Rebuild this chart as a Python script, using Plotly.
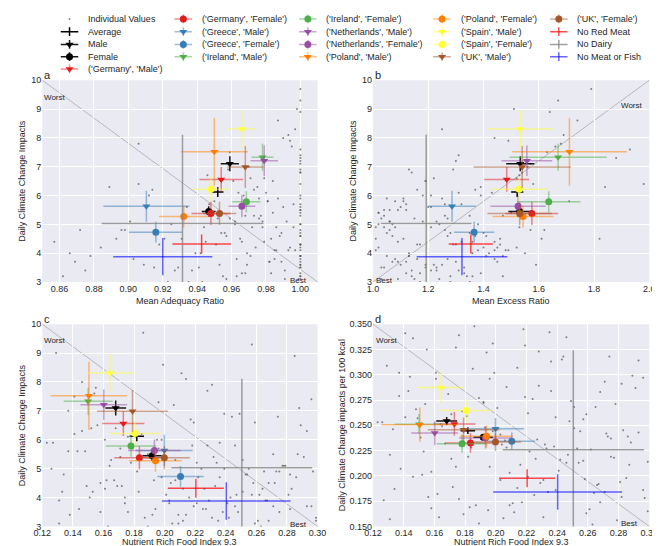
import plotly.graph_objects as go

W, H = 660, 546

# ---------------- data ----------------
groups = ["Average", "Male", "Female",
          "('Germany', 'Male')", "('Germany', 'Female')",
          "('Greece', 'Male')", "('Greece', 'Female')",
          "('Ireland', 'Male')", "('Ireland', 'Female')",
          "('Netherlands', 'Male')", "('Netherlands', 'Female')",
          "('Poland', 'Male')", "('Poland', 'Female')",
          "('Spain', 'Male')", "('Spain', 'Female')",
          "('UK', 'Male')", "('UK', 'Female')",
          "No Red Meat", "No Dairy", "No Meat or Fish"]

# Mean Adequacy Ratio
mar = [0.952, 0.959, 0.9467, 0.954, 0.948, 0.9105, 0.916, 0.978, 0.9686, 0.979, 0.966,
       0.950, 0.9322, 0.966, 0.948, 0.968, 0.953, 0.9426, 0.9315, 0.920]
mar_err = [0.0033, 0.0053, 0.004, 0.0127, 0.0113, 0.025, 0.0156, 0.0064, 0.0082, 0.008, 0.0078,
           0.0195, 0.0143, 0.0081, 0.0105, 0.0105, 0.0097, 0.017, 0.047, 0.0288]
# Mean Excess Ratio
mer = [1.522, 1.533, 1.531, 1.484, 1.575, 1.286, 1.366, 1.670, 1.636, 1.557, 1.525,
       1.711, 1.543, 1.533, 1.529, 1.540, 1.531, 1.354, 1.1925, 1.322]
mer_err = [0.022, 0.051, 0.041, 0.081, 0.095, 0.086, 0.073, 0.176, 0.115, 0.092, 0.100,
           0.207, 0.110, 0.120, 0.104, 0.176, 0.117, 0.080, 0.164, 0.164]
# Nutrient Rich Food Index 9.3
nrf = [0.1818, 0.168, 0.1918, 0.173, 0.1835, 0.1998, 0.2104, 0.150, 0.178, 0.1602, 0.1933,
       0.1505, 0.194, 0.1643, 0.1806, 0.179, 0.1998, 0.2204, 0.2505, 0.2403]
nrf_err = [0.0047, 0.0068, 0.0063, 0.0138, 0.0164, 0.0185, 0.0152, 0.016, 0.0164, 0.0153, 0.0172,
           0.025, 0.0172, 0.015, 0.0167, 0.0233, 0.0167, 0.0183, 0.046, 0.042]
# Daily Climate Change Impacts
cc = [6.12, 7.10, 5.45, 6.56, 5.38, 5.63, 4.73, 7.33, 5.78, 7.21, 5.63,
      7.52, 5.27, 8.31, 6.22, 6.99, 5.38, 4.32, 5.03, 3.88]
cc_err = [0.17, 0.26, 0.18, 0.43, 0.40, 0.54, 0.36, 0.47, 0.37, 0.53, 0.38,
          1.18, 0.38, 0.66, 0.41, 0.73, 0.40, 0.33, 3.08, 0.65]
# Daily Climate Change impacts per 100 kcal
cck = [0.2446, 0.2543, 0.2381, 0.2514, 0.2326, 0.2466, 0.2343, 0.2511, 0.2318, 0.2423, 0.2375,
       0.2505, 0.2391, 0.2874, 0.2647, 0.2456, 0.2336, 0.1976, 0.2258, 0.184]
cck_err = [0.0032, 0.004, 0.0032, 0.0117, 0.0097, 0.0105, 0.0086, 0.010, 0.009, 0.012, 0.0105,
           0.017, 0.011, 0.0159, 0.011, 0.012, 0.009, 0.0089, 0.0985, 0.0175]

# individual values (estimated sample of the cloud)
ind_cc = [3.3, 4.1, 5.6, 3.9, 6.8, 4.5, 3.1, 7.4, 5.2, 4.8,
          3.7, 6.1, 4.3, 8.6, 5.9, 3.5, 4.9, 6.4, 3.2, 5.4,
          4.0, 7.9, 3.6, 5.1, 4.6, 6.9, 3.4, 5.8, 9.3, 4.2,
          5.5, 3.8, 6.3, 4.7, 3.0, 7.1, 5.0, 4.4, 6.6, 3.9,
          8.1, 4.9, 5.3, 3.3, 6.0, 4.1, 7.6, 3.6, 5.7, 4.5,
          3.1, 6.2, 4.8, 9.7, 5.2, 3.7, 4.3, 6.7, 3.5, 5.6,
          4.0, 7.3, 5.9, 3.2, 4.6, 8.9, 3.8, 5.4, 6.5, 4.2,
          3.4, 5.1, 7.0, 4.7, 3.9, 6.1, 5.8, 3.3, 4.4, 8.3,
          5.0, 3.6, 6.9, 4.1, 5.5, 3.0, 7.7, 4.9, 6.4, 3.7,
          5.3, 4.3, 9.0, 3.5, 6.0, 4.8, 5.7, 3.2, 7.2, 4.5,
          3.4, 4.6, 5.1, 3.8, 4.2, 5.7, 3.1, 4.9, 6.3, 3.6,
          4.4, 5.3, 3.2, 4.0, 5.9, 4.7, 3.5, 6.6, 4.1, 5.0,
          3.9, 4.5, 5.5, 3.3, 6.0, 4.8, 3.7, 5.2, 4.3, 7.5,
          3.0, 4.6, 5.8, 3.6, 4.2, 6.8, 5.4, 3.4, 4.9, 5.6,
          3.8, 4.1, 6.2, 3.2, 5.1, 4.4, 8.0, 3.9, 4.7, 5.3,
          3.5, 6.5, 4.0, 3.1, 5.0, 4.5, 7.8, 3.7, 5.5, 4.3]
ind_mar = [0.983, 1.000, 0.934, 0.971, 1.000, 0.893, 0.991, 1.000, 0.952, 0.872,
           1.000, 0.964, 0.918, 0.987, 1.000, 0.941, 0.978, 0.906, 0.862, 1.000,
           0.969, 0.994, 1.000, 0.901, 0.957, 1.000, 0.927, 0.981, 1.000, 0.884,
           0.948, 1.000, 0.975, 0.989, 0.923, 1.000, 0.962, 0.857, 0.979, 1.000,
           0.993, 0.944, 1.000, 0.968, 0.912, 0.985, 1.000, 0.953, 0.996, 0.931,
           1.000, 0.973, 0.896, 1.000, 0.959, 0.982, 1.000, 0.946, 0.915, 0.990,
           0.866, 1.000, 0.976, 0.955, 0.988, 1.000, 0.903, 0.984, 0.961, 1.000,
           0.937, 0.992, 0.970, 1.000, 0.878, 0.980, 0.950, 1.000, 0.966, 0.997,
           1.000, 0.909, 0.958, 0.986, 1.000, 0.943, 0.995, 0.972, 1.000, 0.869,
           0.977, 1.000, 0.998, 0.929, 0.967, 1.000, 0.947, 0.963, 1.000, 0.921,
           0.991, 1.000, 0.962, 0.985, 0.974, 1.000, 0.957, 0.996, 0.889, 1.000,
           0.979, 0.968, 1.000, 0.942, 0.987, 0.954, 1.000, 0.971, 0.993, 0.925,
           1.000, 0.983, 0.948, 0.966, 1.000, 0.898, 0.989, 0.976, 1.000, 0.959,
           0.935, 1.000, 0.981, 0.969, 0.994, 1.000, 0.952, 0.875, 0.986, 1.000,
           0.963, 0.997, 0.914, 1.000, 0.978, 0.945, 0.990, 1.000, 0.956, 0.973,
           1.000, 0.984, 0.939, 0.999, 1.000, 0.965, 0.906, 0.982, 1.000, 0.951]
ind_mer = [1.12, 1.38, 1.21, 1.05, 1.54, 1.46, 1.03, 1.31, 1.27, 1.62,
           1.09, 1.43, 1.17, 1.74, 1.25, 1.33, 1.08, 1.58, 1.14, 1.02,
           1.36, 1.49, 1.19, 1.06, 1.41, 1.29, 1.23, 1.11, 1.67, 1.52,
           1.04, 1.16, 1.84, 1.28, 1.35, 1.57, 1.07, 1.44, 1.22, 1.13,
           1.69, 1.01, 1.26, 1.39, 1.18, 1.48, 1.93, 1.10, 1.32, 1.61,
           1.24, 1.37, 1.06, 1.79, 1.15, 1.45, 1.30, 1.53, 1.03, 1.20,
           1.42, 1.88, 1.11, 1.34, 1.27, 1.64, 1.08, 1.50, 1.19, 1.40,
           1.14, 1.23, 1.56, 1.05, 1.47, 1.31, 1.71, 1.17, 1.36, 1.25,
           1.02, 1.59, 1.13, 1.44, 1.09, 1.28, 1.66, 1.21, 1.98, 1.07,
           1.35, 1.16, 1.51, 1.04, 1.39, 1.26, 1.12, 1.47, 1.30, 1.82,
           1.31, 1.07, 1.18, 1.44, 1.02, 1.26, 1.15, 1.04, 1.39, 1.22,
           1.09, 1.47, 1.28, 1.13, 1.05, 1.35, 1.19, 1.52, 1.01, 1.24,
           1.41, 1.11, 1.06, 1.33, 1.21, 1.57, 1.12, 1.03, 1.29, 1.63,
           1.17, 1.37, 1.08, 1.25, 1.45, 1.14, 1.02, 1.21, 1.53, 1.10,
           1.27, 1.49, 1.16, 1.36, 1.06, 1.32, 1.44, 1.13, 1.40, 1.04,
           1.23, 1.19, 1.55, 1.09, 1.38, 1.01, 1.68, 1.30, 1.12, 1.46]
ind_nrf = [0.187, 0.262, 0.143, 0.229, 0.274, 0.158, 0.205, 0.296, 0.221, 0.134,
           0.246, 0.176, 0.283, 0.199, 0.127, 0.238, 0.265, 0.168, 0.212, 0.291,
           0.151, 0.231, 0.194, 0.277, 0.162, 0.249, 0.138, 0.218, 0.257, 0.183,
           0.271, 0.203, 0.146, 0.236, 0.189, 0.288, 0.224, 0.172, 0.259, 0.131,
           0.214, 0.297, 0.165, 0.242, 0.198, 0.281, 0.154, 0.227, 0.179, 0.268,
           0.209, 0.141, 0.253, 0.186, 0.234, 0.293, 0.161, 0.217, 0.275, 0.148,
           0.243, 0.196, 0.123, 0.261, 0.207, 0.285, 0.174, 0.232, 0.156, 0.251,
           0.192, 0.279, 0.137, 0.222, 0.266, 0.181, 0.246, 0.299, 0.169, 0.211,
           0.255, 0.144, 0.239, 0.201, 0.287, 0.163, 0.228, 0.273, 0.152, 0.219,
           0.184, 0.264, 0.129, 0.248, 0.195, 0.282, 0.171, 0.235, 0.206, 0.258,
           0.214, 0.167, 0.278, 0.241, 0.133, 0.196, 0.259, 0.182, 0.293, 0.225,
           0.149, 0.207, 0.268, 0.174, 0.236, 0.286, 0.158, 0.219, 0.247, 0.126,
           0.203, 0.272, 0.189, 0.231, 0.161, 0.254, 0.296, 0.178, 0.212, 0.141,
           0.263, 0.193, 0.228, 0.282, 0.153, 0.244, 0.171, 0.209, 0.275, 0.137,
           0.221, 0.257, 0.185, 0.299, 0.164, 0.233, 0.146, 0.267, 0.198, 0.251,
           0.176, 0.289, 0.216, 0.131, 0.239, 0.204, 0.155, 0.271, 0.192, 0.226]
ind_cck = [0.171, 0.226, 0.284, 0.193, 0.318, 0.204, 0.158, 0.297, 0.262, 0.187,
           0.213, 0.339, 0.245, 0.302, 0.176, 0.229, 0.268, 0.251, 0.164, 0.287,
           0.238, 0.196, 0.322, 0.218, 0.182, 0.274, 0.207, 0.345, 0.256, 0.169,
           0.293, 0.241, 0.199, 0.313, 0.153, 0.233, 0.276, 0.189, 0.261, 0.221,
           0.307, 0.178, 0.249, 0.216, 0.331, 0.194, 0.271, 0.236, 0.162, 0.283,
           0.203, 0.258, 0.227, 0.348, 0.184, 0.243, 0.296, 0.174, 0.219, 0.266,
           0.315, 0.209, 0.253, 0.167, 0.288, 0.198, 0.327, 0.231, 0.179, 0.247,
           0.272, 0.156, 0.302, 0.224, 0.191, 0.259, 0.337, 0.214, 0.281, 0.173,
           0.244, 0.298, 0.186, 0.267, 0.211, 0.159, 0.323, 0.239, 0.201, 0.278,
           0.228, 0.183, 0.309, 0.254, 0.166, 0.291, 0.217, 0.342, 0.235, 0.197,
           0.188, 0.232, 0.271, 0.205, 0.246, 0.296, 0.163, 0.219, 0.314, 0.181,
           0.257, 0.228, 0.174, 0.209, 0.284, 0.239, 0.168, 0.329, 0.221, 0.253,
           0.196, 0.242, 0.277, 0.159, 0.302, 0.213, 0.186, 0.264, 0.234, 0.341,
           0.152, 0.248, 0.289, 0.179, 0.224, 0.318, 0.261, 0.171, 0.237, 0.279,
           0.199, 0.215, 0.306, 0.165, 0.251, 0.227, 0.336, 0.192, 0.244, 0.268,
           0.177, 0.299, 0.211, 0.157, 0.258, 0.231, 0.325, 0.184, 0.273, 0.217]

# ticks
xticks_a = [0.86, 0.88, 0.90, 0.92, 0.94, 0.96, 0.98, 1.00]
xticks_b = [1.0, 1.2, 1.4, 1.6, 1.8, 2.0]
xticks_cd = [0.12, 0.14, 0.16, 0.18, 0.20, 0.22, 0.24, 0.26, 0.28, 0.30]
yticks_abc = [3, 4, 5, 6, 7, 8, 9, 10]
yticks_d = [0.150, 0.175, 0.200, 0.225, 0.250, 0.275, 0.300, 0.325, 0.350]

# ---------------- styles ----------------
colors = ["#000000", "#000000", "#000000",
          "#e41a1c", "#e41a1c", "#377eb8", "#377eb8", "#4daf4a", "#4daf4a",
          "#984ea3", "#984ea3", "#ff7f00", "#ff7f00", "#ffff33", "#ffff33",
          "#a65628", "#a65628", "#ff0000", "#808080", "#0000ff"]
symbols = [None, "triangle-down", "circle"] + ["triangle-down", "circle"] * 7 + [None, None, None]
bar_alpha = [1.0, 0.9, 0.9] + [0.5] * 14 + [0.7, 0.75, 0.6]

FONT = "Liberation Sans, Arial, sans-serif"
TXT = "#262626"
DOT = "rgba(80,80,80,0.7)"


def rgba(hx, a):
    h = hx.lstrip("#")
    return "rgba(%d,%d,%d,%.2f)" % (int(h[0:2], 16), int(h[2:4], 16), int(h[4:6], 16), a)


def px(x):
    return x / W


def py(y):
    return 1 - y / H


fig = go.Figure()

panels = [("x", "y", ind_mar, ind_cc, mar, mar_err, cc, cc_err),
          ("x2", "y2", ind_mer, ind_cc, mer, mer_err, cc, cc_err),
          ("x3", "y3", ind_nrf, ind_cc, nrf, nrf_err, cc, cc_err),
          ("x4", "y4", ind_nrf, ind_cck, nrf, nrf_err, cck, cck_err)]

for xa, ya, ix, iy, gx, gxe, gy, gye in panels:
    fig.add_trace(go.Scatter(x=ix, y=iy, mode="markers", xaxis=xa, yaxis=ya,
                             marker=dict(size=2, color=DOT),
                             showlegend=False, hoverinfo="skip"))
    for i, g in enumerate(groups):
        sym = symbols[i]
        if sym is None:
            mk = dict(size=1, opacity=0, color=colors[i])
        else:
            mk = dict(size=7, symbol=sym, color=colors[i], line=dict(width=0))
        ec = rgba(colors[i], bar_alpha[i])
        fig.add_trace(go.Scatter(
            x=[gx[i]], y=[gy[i]], mode="markers", xaxis=xa, yaxis=ya, marker=mk,
            error_x=dict(type="data", array=[gxe[i]], color=ec, thickness=1.5, width=0),
            error_y=dict(type="data", array=[gye[i]], color=ec, thickness=1.5, width=0),
            showlegend=False, name=g))

# ---------------- legend (drawn manually) ----------------
legend_names = ["Individual Values"] + groups
col_cx = [54, 171, 299, 437, 557]
row_y = [6, 19, 32, 44.5, 57]
col_sizes = [5, 4, 4, 4, 4]
k = 0
annotations = []
for c, n in enumerate(col_sizes):
    for r in range(n):
        name = legend_names[k]
        cx, cy = col_cx[c], row_y[r]
        if k == 0:
            fig.add_trace(go.Scatter(x=[cx], y=[cy], mode="markers", xaxis="x5", yaxis="y5",
                                     marker=dict(size=2, color=DOT),
                                     showlegend=False, hoverinfo="skip", cliponaxis=False))
        else:
            i = k - 1
            sym = symbols[i]
            if sym is None:
                mk = dict(size=1, opacity=0)
            else:
                mk = dict(size=7, symbol=sym, color=colors[i], line=dict(width=0))
            ec = rgba(colors[i], bar_alpha[i])
            fig.add_trace(go.Scatter(
                x=[cx], y=[cy], mode="markers", xaxis="x5", yaxis="y5", marker=mk,
                error_x=dict(type="constant", value=9, color=ec, thickness=1.5, width=0),
                error_y=dict(type="constant", value=4.5, color=ec, thickness=1.5, width=0),
                showlegend=False, hoverinfo="skip", cliponaxis=False))
        annotations.append(dict(x=px(cx + 17), y=py(cy), xref="paper", yref="paper", text=name,
                                showarrow=False, xanchor="left", yanchor="middle",
                                font=dict(family=FONT, size=9, color=TXT)))
        k += 1

# ---------------- layout ----------------
xA = [26 / W, 309 / W]
xB = [366 / W, 650 / W]
yT = [1 - 274 / H, 1 - 68.5 / H]
yB = [1 - 523 / H, 1 - 317 / H]


def ax(domain, rng, tv, tt, anchor):
    return dict(domain=domain, range=rng, tickvals=tv, ticktext=tt, anchor=anchor,
                showgrid=True, gridcolor="white", gridwidth=1, zeroline=False, showline=False,
                ticks="", ticklen=0, tickfont=dict(family=FONT, size=9, color=TXT), fixedrange=True)


fig.update_layout(
    width=W, height=H, margin=dict(l=0, r=0, t=0, b=0),
    paper_bgcolor="white", plot_bgcolor="rgba(0,0,0,0)", showlegend=False,
    font=dict(family=FONT, size=9, color=TXT),
    xaxis=ax(xA, [0.85, 1.01], xticks_a, ["%.2f" % v for v in xticks_a], "y"),
    yaxis=ax(yT, [3, 10], yticks_abc, [str(v) for v in yticks_abc], "x"),
    xaxis2=ax(xB, [1.0, 2.0], xticks_b, ["%.1f" % v for v in xticks_b], "y2"),
    yaxis2=ax(yT, [3, 10], yticks_abc, [str(v) for v in yticks_abc], "x2"),
    xaxis3=ax(xA, [0.12, 0.30], xticks_cd, ["%.2f" % v for v in xticks_cd], "y3"),
    yaxis3=ax(yB, [3, 10], yticks_abc, [str(v) for v in yticks_abc], "x3"),
    xaxis4=ax(xB, [0.12, 0.30], xticks_cd, ["%.2f" % v for v in xticks_cd], "y4"),
    yaxis4=ax(yB, [0.15, 0.35], yticks_d, ["%.3f" % v for v in yticks_d], "x4"),
    xaxis5=dict(domain=[0, 1], range=[0, W], visible=False, fixedrange=True, anchor="y5"),
    yaxis5=dict(domain=[1 - 66 / H, 1], range=[66, 0], visible=False, fixedrange=True, anchor="x5"),
)

shapes = []
panel_axes = [("x", "y", "down"), ("x2", "y2", "up"), ("x3", "y3", "down"), ("x4", "y4", "down")]
for xa, ya, diag in panel_axes:
    shapes.append(dict(type="rect", xref=xa + " domain", yref=ya + " domain", x0=0, x1=1, y0=0, y1=1,
                       fillcolor="#EAEAF2", line=dict(width=0), layer="below"))
for xa, ya, diag in panel_axes:
    y0, y1 = (1, 0) if diag == "down" else (0, 1)
    shapes.append(dict(type="line", xref=xa + " domain", yref=ya + " domain", x0=0, x1=1, y0=y0, y1=y1,
                       line=dict(color="rgba(150,150,150,0.6)", width=1), layer="below"))
fig.update_layout(shapes=shapes)


def note(x, y, text, size=9, xanchor="center", angle=0):
    annotations.append(dict(x=px(x), y=py(y), xref="paper", yref="paper", text=text, showarrow=False,
                            xanchor=xanchor, yanchor="middle", textangle=angle,
                            font=dict(family=FONT, size=size, color=TXT)))


# axis titles
note(167.5, 293, "Mean Adequacy Ratio")
note(508, 293, "Mean Excess Ratio")
note(167.5, 539, "Nutrient Rich Food Index 9.3")
note(508, 539, "Nutrient Rich Food Index 9.3")
note(5, 171, "Daily Climate Change Impacts", angle=-90)
note(345, 171, "Daily Climate Change Impacts", angle=-90)
note(5, 420, "Daily Climate Change Impacts", angle=-90)
note(334, 420, "Daily Climate Change impacts per 100 kcal", angle=-90)
# panel letters
note(26, 63, "a", size=11, xanchor="left")
note(366, 63, "b", size=11, xanchor="left")
note(26, 312, "c", size=11, xanchor="left")
note(366, 312, "d", size=11, xanchor="left")
# worst / best
note(26, 86, "Worst", size=8, xanchor="left")
note(289.5, 272, "Best", size=8)
note(367, 272.5, "Best", size=8, xanchor="left")
note(632.5, 94, "Worst", size=8)
note(26, 334, "Worst", size=8, xanchor="left")
note(289, 521, "Best", size=8)
note(367, 334, "Worst", size=8, xanchor="left")
note(630, 520.5, "Best", size=8)

fig.update_layout(annotations=annotations)
fig.write_html("out.html")
